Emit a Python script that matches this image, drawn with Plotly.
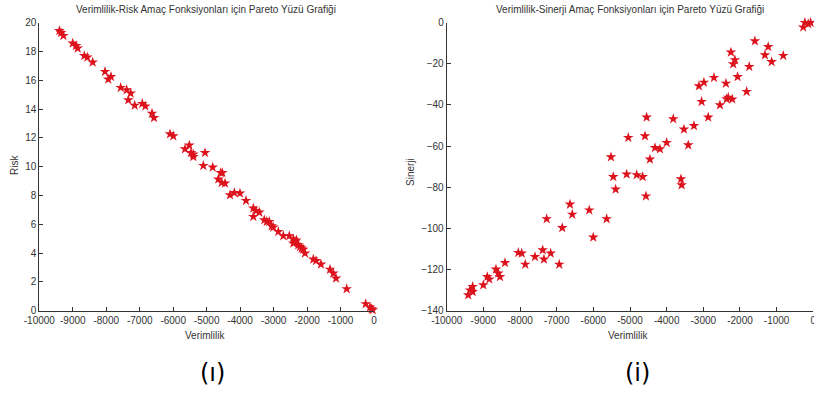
import plotly.graph_objects as go

# Left chart: Verimlilik vs Risk
risk_x = [-9400, -9350, -9280, -9002, -8903, -8853, -8655, -8566, -8405, -8037, -7938, -7858,
          -7568, -7389, -7269, -7341, -7150, -6923, -6833, -6633, -6573, -6095, -5996,
          -5647, -5518, -5467, -5399, -5399, -5049, -5100, -4819, -4580, -4532, -4652, -4550,
          -4452, -4302, -4174, -4004, -3824, -3606, -3526, -3427, -3606, -3278, -3206, -3128,
          -3057, -3009, -2859, -2710, -2530, -2411, -2360, -2411, -2262, -2211, -2161, -2112,
          -2062, -2320, -1813, -1733, -1584, -1314, -1216, -1135, -816, -248, -119, -69, -39]
risk_y = [19.44, 19.3, 19.1, 18.57, 18.4, 18.22, 17.7, 17.6, 17.25, 16.6, 16.07, 16.25,
          15.49, 15.33, 15.1, 14.63, 14.26, 14.38, 14.2, 13.7, 13.4, 12.27, 12.13,
          11.23, 11.49, 10.97, 10.69, 10.86, 10.97, 10.07, 9.96, 9.58, 9.58, 9.13, 8.89,
          8.85, 8.03, 8.19, 8.15, 7.64, 7.11, 6.94, 6.83, 6.53, 6.3, 6.18, 6.18,
          5.88, 5.79, 5.49, 5.19, 5.19, 4.96, 4.79, 4.68, 4.56, 4.44, 4.33, 4.26,
          3.99, 4.9, 3.57, 3.47, 3.22, 2.87, 2.6, 2.25, 1.51, 0.47, 0.24, 0.12, 0.05]

# Right chart: Verimlilik vs Sinerji
syn_x = [-275, -229, -139, -74, -1593, -1230, -1320, -1137, -820, -2247, -2138, -2184, -1748,
         -2064, -2710, -2983, -3120, -2383, -1819, -3046, -2547, -2364, -2320, -2211,
         -4546, -3820, -2866, -3529, -3256, -5047, -4592, -4319, -4183, -4000, -3411,
         -5519, -4456, -5456, -5091, -4818, -4655, -5392, -4565, -3610, -3591,
         -6637, -6575, -6111, -5637, -7273, -6848, -6002,
         -8047, -7955, -7382, -7164, -7347, -7592, -7857, -6929, -8410,
         -8656, -8593, -8547, -8893, -8838, -9002, -9291, -9365, -9291, -9411]
syn_y = [-2.2, 0, -0.6, 0, -8.9, -11.7, -15.7, -19, -16, -14.4, -18.1, -20.1, -21.4,
         -26.3, -26.7, -29, -30.8, -29.5, -33.5, -38.4, -40, -37.1, -36.3, -37.2,
         -46, -46.8, -46, -51.8, -50.1, -55.9, -55.1, -60.8, -61.4, -58.3, -59.5,
         -65.3, -66.4, -74.9, -73.7, -74, -74.9, -81, -84.3, -76, -78.9,
         -88.3, -93.2, -91.1, -95.4, -95.4, -99.7, -104.3,
         -111.8, -112.1, -110.5, -112.1, -115, -113.8, -117.5, -117.5, -116.7,
         -119.9, -121.8, -123.5, -123.5, -124.7, -127.5, -128.3, -130, -130.8, -132.4]

x_ticks = list(range(-10000, 1, 1000))
x_tick_labels = [str(v) for v in x_ticks]
risk_ticks = list(range(0, 21, 2))
syn_ticks = list(range(-140, 1, 20))

W, H = 814, 394
red = "#dc121c"
font = "Arial, Liberation Sans, sans-serif"

fig = go.Figure()
fig.add_trace(go.Scatter(x=risk_x, y=risk_y, mode="markers", xaxis="x", yaxis="y",
                         cliponaxis=False, hoverinfo="skip",
                         marker=dict(symbol="star", size=8, color=red, line=dict(width=0))))
fig.add_trace(go.Scatter(x=syn_x, y=syn_y, mode="markers", xaxis="x2", yaxis="y2",
                         cliponaxis=False, hoverinfo="skip",
                         marker=dict(symbol="star", size=8, color=red, line=dict(width=0))))

def px_x(v):
    return v / W

def px_y(v):
    return 1 - v / H

axis_common = dict(showgrid=False, zeroline=False, showline=True, linecolor="#333",
                   linewidth=1, ticks="inside", ticklen=4, tickcolor="#333",
                   automargin=False, ticklabeloverflow="allow",
                   tickfont=dict(family=font, size=10, color="#333"), mirror=False)

fig.update_layout(
    width=W, height=H, margin=dict(l=0, r=0, t=0, b=0, autoexpand=False),
    paper_bgcolor="white", plot_bgcolor="white", showlegend=False,
    xaxis=dict(domain=[px_x(39.3), px_x(374)], range=[-10000, 0], tickvals=x_ticks,
               ticktext=x_tick_labels, anchor="y", **axis_common),
    yaxis=dict(domain=[px_y(310.7), px_y(22.7)], range=[0, 20], tickvals=risk_ticks,
               anchor="x", **axis_common),
    xaxis2=dict(domain=[px_x(446.7), px_x(813.3)], range=[-10000, 0], tickvals=x_ticks,
                ticktext=x_tick_labels, anchor="y2", **axis_common),
    yaxis2=dict(domain=[px_y(310.7), px_y(22.7)], range=[-140, 0], tickvals=syn_ticks,
                anchor="x2", **axis_common),
)

def ann(text, x, y, size=10, color="#333", angle=0, fam=font):
    fig.add_annotation(text=text, x=px_x(x), y=px_y(y), xref="paper", yref="paper",
                       showarrow=False, textangle=angle, xanchor="center", yanchor="middle",
                       font=dict(family=fam, size=size, color=color))

ann("Verimlilik-Risk Amaç Fonksiyonları için Pareto Yüzü Grafiği", 206, 10)
ann("Verimlilik-Sinerji Amaç Fonksiyonları için Pareto Yüzü Grafiği", 630, 10)
ann("Verimlilik", 205, 335)
ann("Verimlilik", 628, 335)
ann("Risk", 14, 165, angle=-90)
ann("Sinerji", 410, 172, angle=-90)
ann("(ı)", 212, 373, size=24, color="#000", fam="DejaVu Sans, sans-serif")
ann("(i)", 637, 373, size=24, color="#000", fam="DejaVu Sans, sans-serif")

fig.write_html("out.html", config={"displayModeBar": False},
               post_script="document.body.style.margin='0';")
